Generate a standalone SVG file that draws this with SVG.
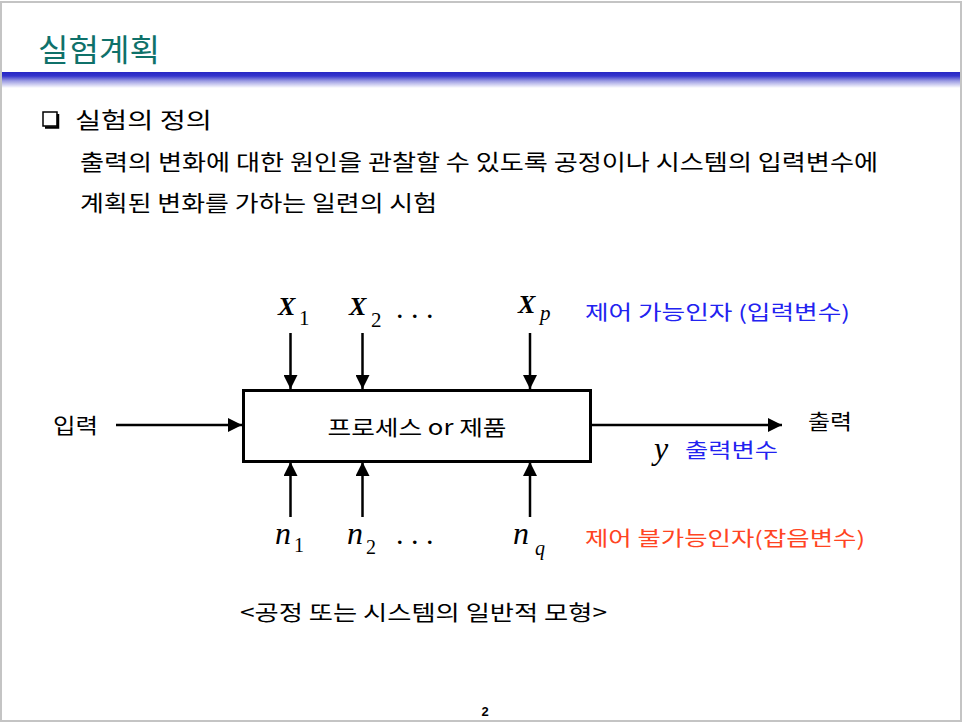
<svg xmlns="http://www.w3.org/2000/svg" width="963" height="722" viewBox="0 0 963 722">
  <defs>
    <linearGradient id="bar" x1="0" y1="0" x2="0" y2="1">
      <stop offset="0" stop-color="#2626c4"/>
      <stop offset="0.25" stop-color="#3535cc"/>
      <stop offset="0.55" stop-color="#9a9ae2"/>
      <stop offset="1" stop-color="#ffffff"/>
    </linearGradient>
    <marker id="arr" markerUnits="userSpaceOnUse" markerWidth="14" markerHeight="14" viewBox="0 0 14 14" refX="14" refY="7" orient="auto">
      <path d="M0,0 L14,7 L0,14 z" fill="#000"/>
    </marker>
  </defs>
  <style>
    .kr { font-family: "Noto Sans CJK KR", "Noto Sans", sans-serif; fill: #000; }
    .math { font-family: "Liberation Serif", "DejaVu Serif", serif; font-style: italic; fill: #000; }
    .sub { font-family: "Liberation Serif", "DejaVu Serif", serif; fill: #000; }
    .blue { fill: #2222f0; }
    .red { fill: #ff4422; }
    .conn line { stroke: #000; stroke-width: 2.5; marker-end: url(#arr); }
  </style>
  <rect x="0" y="0" width="963" height="722" fill="#fff"/>
  <rect x="1" y="2" width="960" height="719" fill="none" stroke="#c4c4c4" stroke-width="2"/>

  <g id="header">
    <text class="kr" x="38" y="61" font-size="31" textLength="122" lengthAdjust="spacingAndGlyphs" style="fill:#0f716a">실험계획</text>
    <rect x="2" y="72" width="958" height="16" fill="url(#bar)"/>
  </g>

  <g id="definition">
    <rect x="43" y="112" width="14" height="14" fill="#fff" stroke="#000" stroke-width="1.5"/>
    <path d="M58,114 V127.5 H45" fill="none" stroke="#000" stroke-width="2.5"/>
    <text class="kr" x="75" y="128" font-size="22" textLength="137" lengthAdjust="spacingAndGlyphs">실험의 정의</text>
    <text class="kr" x="80" y="170" font-size="22" textLength="798" lengthAdjust="spacingAndGlyphs">출력의 변화에 대한 원인을 관찰할 수 있도록 공정이나 시스템의 입력변수에</text>
    <text class="kr" x="80" y="211" font-size="22" textLength="357" lengthAdjust="spacingAndGlyphs">계획된 변화를 가하는 일련의 시험</text>
  </g>

  <g id="process">
    <rect x="243.5" y="390.5" width="347" height="71" fill="#fff" stroke="#000" stroke-width="3"/>
    <text class="kr" x="417" y="435" font-size="21" text-anchor="middle" textLength="179" lengthAdjust="spacingAndGlyphs">프로세스 or 제품</text>
  </g>

  <g id="input-label">
    <text class="kr" x="53" y="433" font-size="21" textLength="45" lengthAdjust="spacingAndGlyphs">입력</text>
  </g>
  <g id="output-label">
    <text class="kr" x="808" y="429" font-size="21" textLength="44" lengthAdjust="spacingAndGlyphs">출력</text>
    <text class="math" x="654" y="459" font-size="32">y</text>
    <text class="kr blue" x="685" y="458" font-size="20" textLength="93" lengthAdjust="spacingAndGlyphs">출력변수</text>
  </g>

  <g id="controllable">
    <text class="math" x="278" y="315" font-size="26" font-weight="bold">X</text>
    <text class="sub" x="299" y="325" font-size="21">1</text>
    <text class="math" x="349" y="315" font-size="26" font-weight="bold">X</text>
    <text class="sub" x="371" y="327" font-size="21">2</text>
    <text class="sub" x="397" y="318" font-size="22" font-weight="bold" letter-spacing="2">. . .</text>
    <text class="math" x="518" y="313" font-size="26" font-weight="bold">X</text>
    <text class="math" x="540" y="320" font-size="21">p</text>
    <text class="kr blue" x="585" y="320" font-size="20" textLength="265" lengthAdjust="spacingAndGlyphs">제어 가능인자 (입력변수)</text>
  </g>

  <g id="noise">
    <text class="math" x="275" y="544" font-size="32">n</text>
    <text class="sub" x="294" y="552" font-size="20">1</text>
    <text class="math" x="347" y="544" font-size="32">n</text>
    <text class="sub" x="366" y="554" font-size="20">2</text>
    <text class="sub" x="397" y="544" font-size="22" font-weight="bold" letter-spacing="2">. . .</text>
    <text class="math" x="513" y="544" font-size="32">n</text>
    <text class="math" x="535" y="555" font-size="20">q</text>
    <text class="kr red" x="585" y="546" font-size="20" textLength="280" lengthAdjust="spacingAndGlyphs">제어 불가능인자(잡음변수)</text>
  </g>

  <g id="connectors" class="conn">
    <line x1="116" y1="425" x2="242" y2="425"/>
    <line x1="592" y1="425" x2="782" y2="425"/>
    <line x1="290.5" y1="333" x2="290.5" y2="389"/>
    <line x1="362.5" y1="333" x2="362.5" y2="389"/>
    <line x1="530" y1="333" x2="530" y2="389"/>
    <line x1="290.5" y1="517" x2="290.5" y2="462"/>
    <line x1="362.5" y1="517" x2="362.5" y2="462"/>
    <line x1="530" y1="517" x2="530" y2="462"/>
  </g>

  <g id="caption">
    <text class="kr" x="240" y="620" font-size="21" textLength="367" lengthAdjust="spacingAndGlyphs">&lt;공정 또는 시스템의 일반적 모형&gt;</text>
    <text x="485" y="716" font-family="Liberation Sans, Arial, sans-serif" font-size="13" font-weight="bold" text-anchor="middle">2</text>
  </g>
</svg>
